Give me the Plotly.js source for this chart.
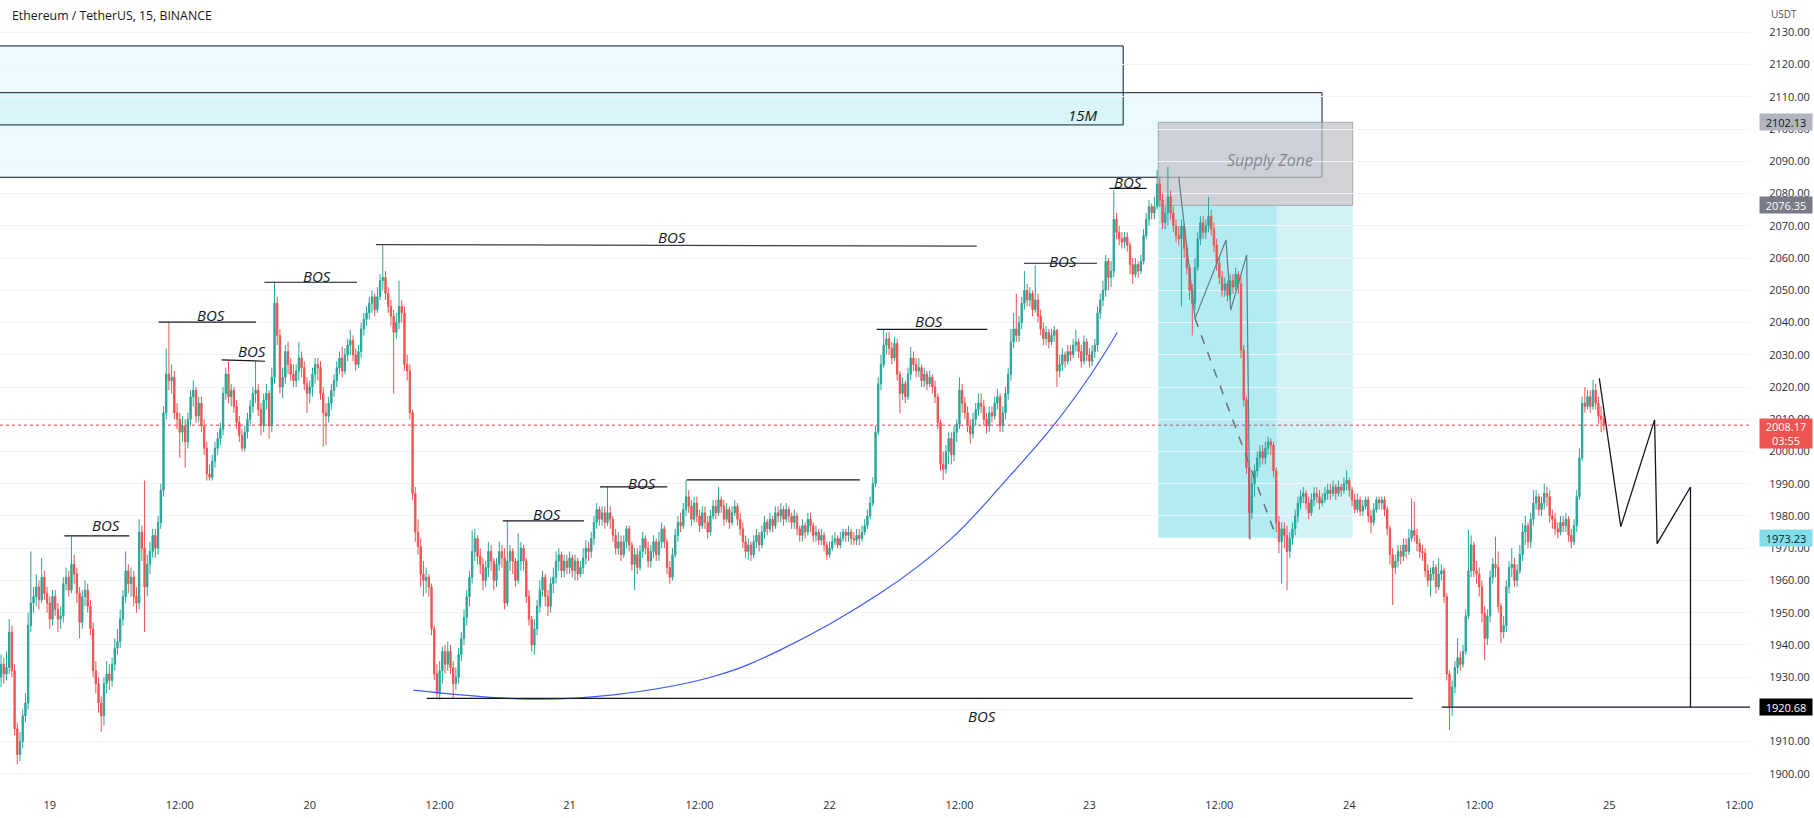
<!DOCTYPE html>
<html><head><meta charset="utf-8">
<script src="https://cdn.plot.ly/plotly-3.0.1.min.js"></script>
<style>html,body{margin:0;padding:0;background:#fff;}#chart{width:1814px;height:818px;}</style>
</head><body><div id="chart"></div>
<script>
// 15-minute ETH/USDT bars, first bar at day 18, 19:30 (x axis unit = day of month)
const startDay = 18.8125;
const barDays = 1 / 96;
const firstOpen = 1930;
const closes = [
1934,1931,1933,1944,1932,1914,1906,1910,1918,1922,1946,1953,1955,1958,1954,1961,
1956,1953,1948,1955,1951,1948,1949,1959,1961,1957,1965,1962,1956,1947,1955,1957,
1952,1945,1932,1928,1922,1918,1928,1931,1929,1934,1939,1941,1948,1955,1963,1959,
1961,1955,1953,1975,1970,1958,1965,1969,1974,1970,1978,1988,2012,2024,2022,2023,
2012,2010,2006,2008,2003,2010,2017,2019,2011,2015,2008,2001,1993,1992,1997,2001,
2004,2007,2018,2024,2017,2019,2014,2009,2005,2001,2006,2010,2014,2018,2019,2013,
2008,2016,2018,2008,2023,2046,2036,2020,2023,2031,2027,2024,2022,2025,2029,2026,
2021,2018,2020,2024,2027,2026,2018,2012,2011,2015,2019,2022,2026,2029,2025,2030,
2033,2034.5,2030,2027,2031,2038,2041,2043,2046,2048,2044,2048,2053,2054,2049,2045,
2042,2037,2040,2045,2043,2027,2025,2012,1987,1975,1970.5,1962,1960,1961,1958,1945,
1931,1925,1932,1938,1934,1938,1933,1928,1930,1937,1942,1948.5,1955,1961,1969,1973,
1967.5,1965,1960,1964,1969,1966,1960,1965,1969,1967,1953,1966,1969,1966,1960,1966,
1970,1966,1955,1948,1940,1945,1952,1957,1961,1955,1952,1959,1961,1966,1968,1963,
1966,1964,1967,1963,1966,1962,1964,1967,1970,1969,1973,1978,1982,1979,1981,1978,
1981,1979,1974,1970,1972,1968,1972,1976,1971,1965,1968,1964,1969,1973,1970,1966,
1969,1972,1968,1972,1976,1972,1964,1961,1968,1974,1978,1977,1982,1986,1983,1979,
1984,1980,1977,1981,1978,1975,1980,1983,1981,1985,1983,1979,1982,1978,1981,1983,
1979,1976,1972,1969,1971,1968,1972,1974,1971,1975,1978,1976,1979,1977,1981,1980,
1982,1979,1982,1980,1978,1980,1976,1974,1977,1975,1979,1977,1974,1975,1972.5,1974,
1971,1968,1970,1972,1973,1971,1973,1975,1974,1975,1973,1972.5,1974,1973,1975,1977,
1980,1984,1990,2006,2021,2027,2033,2035,2032,2029,2033.5,2024,2018,2021,2017,2024,
2029,2027,2025,2026,2022,2024,2021,2023,2020,2017,2009,1996,1994.5,2000,2004,1999,
2006,2008.5,2019,2015,2012,2008,2005.5,2010,2013,2015,2014,2010,2008,2012,2011,2015,
2017,2008,2012,2018,2024,2034,2038,2036,2040,2046,2050,2047,2049,2044,2047,2042,
2038,2035,2037,2034,2036,2037.5,2025,2027,2030,2028,2031,2030,2033,2034,2031,2028,
2034,2030,2028,2031,2033,2043,2047,2050,2059,2054,2056,2072,2068,2066,2065,2066.5,
2064,2058,2055,2058,2056,2059,2067,2072,2076,2074,2076,2083,2078,2071,2074,2079,
2074,2070,2067,2066,2070,2063,2057,2050,2046,2057,2066,2071,2068,2070,2073,2069,
2064,2058.4,2054,2050,2052,2048.5,2053,2051,2055,2052,2031.5,2016,1995,1981,1990,1994,
1998,2000,1998,2001,2003,2002,1994,1978,1972,1976,1974,1969,1973,1976,1980,1984,
1986,1987,1984,1981,1985,1987,1986,1984,1985,1987,1988,1987,1989,1987,1989,1988,
1990,1991,1988,1985,1982,1985,1981.5,1983,1985,1980,1978,1982,1985,1984,1985,1982,
1976,1968,1964,1966,1969,1967.5,1971,1969,1973,1975.5,1974,1971.5,1969,1968.5,1963,1960,
1962,1964,1958,1962,1963,1955,1931,1921,1927,1933,1936,1934,1938,1949,1963,1971,
1963,1962,1958,1949.8,1942,1949,1961,1965,1964,1952,1944,1946,1958,1964,1965,1960,
1963,1968,1975,1977,1972,1979,1984,1986,1982,1984,1987,1986,1980,1979,1976,1975,
1978,1977,1979,1974,1972,1977,1986,1998,2015,2014,2017,2014,2019,2015,2011,2010,
2008.17];
const highs = [
1937,1936,1938,1948,1946,1934,1916,1913,1920,1925,1950,1969,1958,1962,1960,1967,
1963,1958,1955,1957,1957,1953,1952,1961,1964,1963,1973.6,1968,1964,1958,1957,1960,
1959,1954,1947,1935,1930,1924,1930,1935,1934,1936,1942,1945,1951,1957,1969,1965,
1964,1963,1958,1979,1977,1991,1968,1972,1976,1976,1980,1990,2014,2032,2040,2027,
2025,2015,2012,2011,2010,2012,2019,2022,2020,2017,2017,2010,2003,1996,1999,2003,
2006,2009,2020,2026,2028,2021,2020,2016,2011,2007,2008,2012,2016,2020,2028,2021,
2015,2018,2021,2019,2026,2052.7,2048,2038,2026,2033,2034,2029,2027,2027,2034,2031,
2028,2023,2022,2026,2029,2029,2028,2020,2015,2017,2021,2024,2028,2031,2032.5,2032,
2035,2037.7,2036,2032,2033,2040,2043,2045,2048,2050,2049,2051,2055,2064,2056,2051,
2047,2044,2043,2053,2047,2045,2030,2027,2013,1989,1979,1973,1966,1964,1962,1959,
1946,1934,1935,1939.5,1940,1941,1940,1935,1933,1939,1944,1951,1957,1963,1975.6,1976,
1974,1970,1967,1966,1972,1971,1967,1967,1972,1971,1970,1978.5,1971,1970,1967,1974.6,
1972,1971,1967,1957,1949,1948,1954,1960,1963,1962,1957,1961,1964,1969,1970,1969,
1968,1968,1969,1968,1968,1967,1966,1970,1972.6,1972,1975,1980,1984,1983,1983,1983,
1989,1983,1980,1976,1975,1974,1974,1977,1977,1972,1970,1970,1971,1975,1974,1972,
1971,1974,1973,1975,1978,1977,1973,1966,1970,1976,1980,1981,1984,1991.2,1988,1985,
1986,1986,1982,1983,1983,1980,1982,1985,1985,1989,1986,1985,1984,1983,1983,1985,
1984,1981,1978,1974,1973,1972,1974,1976,1975,1977,1980,1979,1981,1980,1983,1983,
1984,1983,1984,1983,1981,1982,1981,1977,1979,1978,1981,1981,1978,1977,1976,1976,
1975,1972,1972,1974,1975,1974,1975,1976,1976,1977,1976,1975,1976,1976,1977,1979,
1982,1986,1992,2008,2023,2030,2037.7,2037,2037,2034,2035.5,2035,2025,2023,2022,2026,
2032.5,2031,2029,2029,2027,2026,2025,2025,2024,2022,2018,2010,2000,2002,2006,2006,
2008,2010,2023,2021,2017,2014,2010,2012,2015,2018,2018,2016,2012,2014,2014,2017,
2019.5,2018,2014,2020,2026,2038,2043,2049,2042,2048,2056,2052,2051,2050,2057.8,2049,
2044,2040,2039,2038,2038,2039,2038,2030,2032,2031,2033,2033,2035,2037.7,2035,2033,
2036,2035,2032,2033,2035,2045,2049,2053,2061,2060,2059,2081,2074,2070,2068,2068,
2068,2065,2060,2060,2059,2061,2069,2074,2078,2077,2079,2087.3,2085,2080,2076,2088.3,
2081,2076,2072,2070,2072,2071,2064,2058,2052,2060,2068,2073,2073,2072,2079,2075,
2071,2066,2060,2056,2054,2053,2055,2055,2057,2056,2054,2033,2017,1997,1993,1996,
2000,2002,2002,2003,2004.6,2004,2003,1995,1980,1978,1978,1977,1975,1978,1982,1986,
1988,1989,1988,1986,1987,1989,1989,1988,1987,1989,1990,1990,1991,1990,1991,1990,
1992,1994.2,1992,1989,1987,1987,1986,1985,1986,1986,1982,1984,1986,1986,1986,1986,
1983,1977,1970,1968,1971,1971,1973,1973,1976,1985.5,1984.5,1976,1973,1971,1970,1965,
1964,1966,1965,1967,1965,1964,1956,1932,1929,1935,1942,1938,1940,1951,1975.7,1974,
1972,1966,1964,1960,1952,1951,1963,1967,1973.6,1969,1953,1949,1960,1966,1970,1967,
1965,1971,1977.7,1980,1978,1981,1988,1988,1987,1986,1990,1989,1988,1982,1981,1978,
1980,1980,1981,1980,1976,1979,1988,2001,2017,2020,2019,2019,2022.2,2021,2017,2014,
2012];
const lows = [
1927,1928,1929,1931,1930,1912,1903,1904,1908,1916,1920,1944,1950,1952,1951,1953,
1954,1950,1945,1946,1949,1944,1945,1947,1957,1955,1956,1959,1953,1942,1945,1952,
1950,1943,1930,1925,1919,1913,1915,1925,1926,1927,1932,1937,1939,1946,1953,1956,
1955,1952,1950,1951,1966,1944,1955,1962,1967,1967,1968,1976,1986,2010,2019,2018,
2010,2007,1998,2003,1995,2001,2008,2014,2009,2009,2006,1999,1991,1991,1991,1995,
1999,2002,2005,2016,2015,2014,2012,2007,2003,2000,2000,2004,2008,2012,2015,2011,
2005,2006,2013,2004,2006,2021,2033,2018,2016.5,2021,2024,2022,2020,2020,2022,2023,
2019,2012,2015,2017,2021,2022,2016,2001.5,2002,2009,2013,2017,2020,2024,2023,2024,
2028,2030,2028,2025,2026,2029,2036,2039,2041,2043,2042,2043,2047,2050,2047,2043,
2039,2018,2035,2038,2040,2025,2022,2010,1985,1972,1968,1958,1955,1956,1955,1943,
1929,1923.4,1923,1928,1931,1932,1931,1923.5,1926,1928,1935,1940,1946,1952,1959,1966,
1965,1962,1957,1958,1961,1963,1957,1958,1963,1964,1951,1952,1963,1962,1958,1959,
1963,1963,1953,1946,1938,1937,1943,1950,1955,1952,1949,1950,1956,1959,1963,1961,
1961,1962,1962,1961,1960,1960,1961,1962,1965,1966,1967,1971,1976,1977,1977,1976,
1977,1976,1972,1968,1968,1966,1967,1970,1969,1963,1957,1962,1963,1967,1968,1964,
1964,1967,1966,1966,1970,1970,1962,1959,1960,1967,1972,1975,1976,1980,1981,1977,
1978,1978,1975,1976,1976,1973,1974,1979,1979,1980,1981,1977,1978,1976,1977,1980,
1977,1974,1970,1967,1966.4,1966,1967,1970,1969,1970,1973,1974,1975,1975,1976,1978,
1978,1977,1978,1978,1976,1976,1974,1972,1972,1973,1974,1975,1972,1972,1971,1971,
1969,1966.4,1967,1969,1971,1970,1970,1972,1972,1972,1971,1971,1971,1971,1972,1974,
1976,1979,1983,1989,2005,2019,2026,2030,2030,2027,2028,2022,2011.8,2016,2015,2016,
2022,2025,2023,2023,2020,2020,2019,2020,2018,2015,2007,1994,1991.2,1993,1996,1996,
1997,2003,2007,2012,2010,2006,2002.5,2004,2008,2011,2012,2008,2005.5,2006,2009,2010,
2013,2006,2006,2010,2016,2022,2032,2034,2034,2038,2044,2045,2045,2042,2043,2040,
2036,2033,2033,2032,2033,2034,2020,2023,2025,2026,2027,2028,2029,2031,2029,2026,
2027,2028,2026,2026.5,2029,2031,2041,2045,2048,2050,2051,2054,2066,2064,2063,2063,
2062,2055,2052,2054,2054,2055,2058,2066,2070,2072,2072,2075,2076,2069,2069,2070,
2072,2068,2065,2064,2045,2060,2055,2047,2036,2044,2056,2064,2066,2066,2068,2067,
2062,2056,2052,2048,2048,2046.5,2047,2049,2050,2049,2029,2014,1993,1973,1979,1986,
1992,1995,1996,1996,1999,1999,1992,1975,1968.4,1959,1970,1957,1967,1971,1974,1978,
1982,1984,1982,1979,1980,1983,1984,1982,1983,1984,1985,1985,1986,1985,1986,1986,
1987,1988,1986,1983,1980.8,1981,1980,1980,1982,1978,1974.6,1977,1981,1982,1982,1980,
1974,1965,1952.4,1962,1964,1965,1966,1967,1968,1972,1972,1969,1967,1966,1961,1958,
1955,1960,1956,1957,1960,1953,1929,1913.6,1918,1925,1931,1932,1933,1937,1948,1961,
1961,1959,1955,1947,1935.3,1940,1947,1959,1961,1950,1940.5,1942,1944,1956,1961,1958,
1958,1962,1966,1971,1970,1970,1977,1982,1980,1980,1982,1983,1978,1976,1974,1973,
1974,1975,1975,1972,1970,1971,1975,1985,1997,2012,2013,2012,2013,2013,2008.7,2006,
2006.5];

// axis ticks
const priceTicks = [1900,1910,1920,1930,1940,1950,1960,1970,1980,1990,2000,2010,2020,2030,2040,2050,2060,2070,2080,2090,2100,2110,2120,2130];
const timeTicks = [19,19.5,20,20.5,21,21.5,22,22.5,23,23.5,24,24.5,25,25.5];
const timeTickText = ['19','12:00','20','12:00','21','12:00','22','12:00','23','12:00','24','12:00','25','12:00'];
const xRange = [18.80838, 25.5417];
const yRange = [1895.0, 2140.05];

// drawings: BOS lines (start day, end day, start price, end price)
const bosX0 = [19.0558,19.4190,19.6614,19.8253,20.2551,20.7426,21.1169,21.4505,22.1816,22.7483,23.0766,20.4502,24.3555];
const bosX1 = [19.3059,19.7934,19.8280,20.1820,22.5664,21.0550,21.3759,22.1170,22.6072,23.0292,23.2204,24.2439,25.6];
const bosY0 = [1973.8,2040.1,2028.4,2052.5,2064.2,1978.5,1989.0,1991.2,2037.9,2058.4,2081.6,1923.45,1920.68];
const bosY1 = [1973.8,2040.1,2028.0,2052.5,2063.7,1978.5,1989.0,1991.2,2037.9,2058.4,2081.6,1923.45,1920.68];
const bosTextX = [19.2162,19.6202,19.7791,20.0269,21.3940,20.9119,21.2774,22.3828,22.8996,23.1497,22.5883];
const bosTextY = [1977.2,2042.35,2031.3,2054.5,2066.5,1980.5,1990.3,2040.5,2059.2,2083.5,1917.9];

// zones
const zone15mA = {x1: 23.13, y0: 2101.3, y1: 2125.8};
const zone15mB = {x1: 23.895, y0: 2085.06, y1: 2111.3};
const supplyZone = {x0: 23.265, x1: 24.013, y0: 2076.35, y1: 2102.13};
const positionBox = {x0: 23.265, xMid: 23.7207, x1: 24.013, y0: 1973.23, y1: 2076.35};
const lastPrice = 2008.17;

// curve and path drawings
const curveX = [20.3986,20.8476,21.168,21.5529,21.8096,22.1943,22.4637,22.6945,22.8611,23.0023,23.1073];
const curveY = [1926.0,1923.2,1924.5,1930.2,1938.4,1956,1972.6,1992.5,2008,2023.5,2036.9];
const zigX = [23.3436,23.4063,23.5256,23.5437,23.6052,23.6179];
const zigY = [2085.2,2041.3,2065.6,2043.9,2061,1972.6];
const dashX = [23.4063,23.7207];
const dashY = [2041.3,1973.1];
const projX = [24.9619,25.0446,25.1746,25.1842,25.3127,25.3127];
const projY = [2022.7,1976.7,2009.8,1971.4,1989.0,1920.7];

const xs = closes.map((_, i) => startDay + i * barDays);
const opens = closes.map((c, i) => i === 0 ? firstOpen : closes[i - 1]);
const hi = highs.map((h, i) => Math.max(h, opens[i], closes[i]));
const lo = lows.map((l, i) => Math.min(l, opens[i], closes[i]));

const FONT = 'Open Sans, Roboto, sans-serif';
const traces = [
  {type: 'candlestick', x: xs, open: opens, high: hi, low: lo, close: closes,
   increasing: {line: {color: '#26a69a', width: 1}, fillcolor: '#26a69a'},
   decreasing: {line: {color: '#ef5350', width: 1}, fillcolor: '#ef5350'},
   whiskerwidth: 0, hoverinfo: 'skip', showlegend: false},
  {type: 'scatter', mode: 'lines', x: curveX, y: curveY, line: {color: '#3d5afe', width: 1.2, shape: 'spline', smoothing: 1.1}, hoverinfo: 'skip', showlegend: false},
  {type: 'scatter', mode: 'lines', x: zigX, y: zigY, line: {color: '#5f7f88', width: 1.2}, hoverinfo: 'skip', showlegend: false},
  {type: 'scatter', mode: 'lines', x: dashX, y: dashY, line: {color: '#6b7075', width: 1.5, dash: 'dash'}, hoverinfo: 'skip', showlegend: false},
  {type: 'scatter', mode: 'lines', x: projX, y: projY, line: {color: '#131722', width: 1.3}, hoverinfo: 'skip', showlegend: false}
];

const shapes = [
  {type: 'rect', xref: 'x', yref: 'y', x0: 18.70, x1: zone15mA.x1, y0: zone15mA.y0, y1: zone15mA.y1,
   fillcolor: 'rgba(0,188,212,0.08)', line: {color: '#131722', width: 1}, layer: 'below'},
  {type: 'rect', xref: 'x', yref: 'y', x0: 18.70, x1: zone15mB.x1, y0: zone15mB.y0, y1: zone15mB.y1,
   fillcolor: 'rgba(0,188,212,0.08)', line: {color: '#131722', width: 1}, layer: 'below'},
  {type: 'rect', xref: 'x', yref: 'y', x0: positionBox.x0, x1: positionBox.xMid, y0: positionBox.y0, y1: positionBox.y1,
   fillcolor: 'rgba(0,188,212,0.30)', line: {width: 0}, layer: 'below'},
  {type: 'rect', xref: 'x', yref: 'y', x0: positionBox.xMid, x1: positionBox.x1, y0: positionBox.y0, y1: positionBox.y1,
   fillcolor: 'rgba(0,188,212,0.18)', line: {width: 0}, layer: 'below'},
  {type: 'rect', xref: 'x', yref: 'y', x0: supplyZone.x0, x1: supplyZone.x1, y0: supplyZone.y0, y1: supplyZone.y1,
   fillcolor: 'rgba(190,193,200,0.72)', line: {color: 'rgba(140,143,150,0.7)', width: 1}, layer: 'below'},
  {type: 'line', xref: 'paper', yref: 'y', x0: 0, x1: 1, y0: lastPrice, y1: lastPrice,
   line: {color: '#f23645', width: 1, dash: 'dot'}, layer: 'below'}
];
for (let k = 0; k < bosX0.length; k++) {
  shapes.push({type: 'line', xref: 'x', yref: 'y', x0: bosX0[k], x1: bosX1[k], y0: bosY0[k], y1: bosY1[k],
    line: {color: k === 4 ? '#3a3d45' : '#131722', width: 1.2}, layer: 'above'});
}

const annotations = [
  {xref: 'paper', yref: 'paper', x: 0, y: 1, xanchor: 'left', yanchor: 'top', xshift: 10, yshift: -5,
   text: 'Ethereum / TetherUS, 15, BINANCE', showarrow: false, font: {family: FONT, size: 12.3, color: '#131722'}},
  {xref: 'paper', yref: 'paper', x: 1, y: 1, xanchor: 'left', yanchor: 'top', xshift: 19, yshift: -5,
   text: 'USDT', showarrow: false, font: {family: FONT, size: 10, color: '#50535e'}},
  {xref: 'x', yref: 'y', x: 22.975, y: 2104.4, text: '<i>15M</i>', showarrow: false,
   font: {family: FONT, size: 15, color: '#131722'}},
  {xref: 'x', yref: 'y', x: 23.6949, y: 2090.4, text: '<i>Supply Zone</i>', showarrow: false,
   font: {family: FONT, size: 16, color: '#858892'}}
];
for (let k = 0; k < bosTextX.length; k++) {
  annotations.push({xref: 'x', yref: 'y', x: bosTextX[k], y: bosTextY[k], text: '<i>BOS</i>', showarrow: false,
    font: {family: FONT, size: 15, color: '#131722'}});
}
const priceLabels = [
  {y: 2102.13, text: '2102.13', bg: '#b2b5be', fg: '#131722', h: 14, anchor: 'middle', shift: 0},
  {y: 2076.35, text: '2076.35', bg: '#787b86', fg: '#ffffff', h: 14, anchor: 'middle', shift: 0},
  {y: 2008.17, text: '2008.17<br>03:55', bg: '#f05350', fg: '#ffffff', h: 27, anchor: 'top', shift: 7},
  {y: 1973.23, text: '1973.23', bg: '#80deea', fg: '#131722', h: 14, anchor: 'middle', shift: 0},
  {y: 1920.68, text: '1920.68', bg: '#000000', fg: '#ffffff', h: 14, anchor: 'middle', shift: 0}
];
priceLabels.forEach(p => annotations.push({
  xref: 'paper', yref: 'y', x: 1, y: p.y, xanchor: 'left', yanchor: p.anchor, xshift: 9, yshift: p.shift,
  text: p.text, showarrow: false, bgcolor: p.bg, width: 50, height: p.h, borderpad: 1,
  font: {family: FONT, size: 11, color: p.fg}
}));

const layout = {
  width: 1814, height: 818,
  margin: {l: 0, r: 64, t: 0, b: 28, pad: 0},
  paper_bgcolor: '#ffffff', plot_bgcolor: '#ffffff',
  showlegend: false, dragmode: false,
  xaxis: {type: 'linear', range: xRange, tickvals: timeTicks, ticktext: timeTickText,
    showgrid: false, zeroline: false, showline: false, ticks: 'outside', ticklen: 5, tickcolor: 'rgba(0,0,0,0)',
    tickfont: {family: FONT, size: 11, color: '#2a2e39'}, rangeslider: {visible: false}, fixedrange: true},
  yaxis: {range: yRange, side: 'right', tickvals: priceTicks, tickformat: '.2f',
    showgrid: true, gridcolor: '#f0f3fa', gridwidth: 1, zeroline: false, showline: false,
    ticks: 'outside', ticklen: 16, tickcolor: 'rgba(0,0,0,0)',
    tickfont: {family: FONT, size: 11, color: '#2a2e39'}, fixedrange: true},
  shapes: shapes,
  annotations: annotations
};

Plotly.newPlot('chart', traces, layout, {displayModeBar: false, staticPlot: true});
</script>
</body></html>
